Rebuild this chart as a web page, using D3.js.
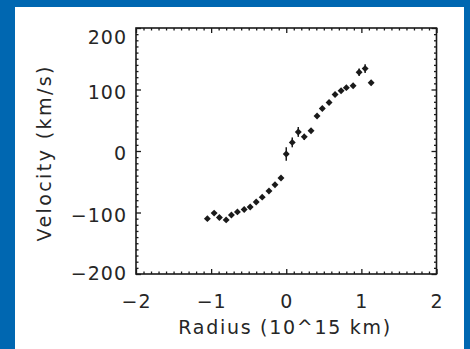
<!DOCTYPE html>
<html>
<head>
<meta charset="utf-8">
<script src="https://cdn.jsdelivr.net/npm/d3@7"></script>
<style>
  html, body { margin: 0; padding: 0; background: #0067b1; }
  svg { display: block; }
</style>
</head>
<body>
<svg id="chart" width="470" height="349"></svg>
<script>
// Rotation curve: line-of-sight velocity against projected radius
const radius = [-1.05, -0.96, -0.89, -0.80, -0.73, -0.65, -0.56, -0.48, -0.40, -0.32,
                -0.23, -0.15, -0.07, 0.00, 0.08, 0.16, 0.24, 0.33, 0.41, 0.48,
                0.57, 0.65, 0.73, 0.80, 0.89, 0.97, 1.05, 1.13];
const velocity = [-110, -101, -108, -112, -104, -99, -95, -91, -83, -75,
                  -65, -55, -44, -5, 14, 31, 23, 33, 57, 69,
                  79, 92, 98, 103, 106, 128, 134, 111];
const velocityErr = [3, 3, 3, 3, 3, 3, 3, 3, 3, 3,
                     3, 3, 3, 11, 8, 8, 5, 3, 3, 3,
                     3, 3, 3, 3, 3, 6, 7, 4];
const xTicks = [-2, -1, 0, 1, 2];
const yTicks = [-200, -100, 0, 100, 200];
const xTitle = "Radius (10^15 km)";
const yTitle = "Velocity (km/s)";

const svg = d3.select("#chart");
const ink = "#1a1a1a";
const textInk = "#262626";
const font = "'DejaVu Sans', sans-serif";

// white panel
svg.append("rect").attr("x", 15).attr("y", 7).attr("width", 449).attr("height", 342).attr("fill", "#ffffff");

const box = { left: 136, right: 436.5, top: 28, bottom: 274 };
const x = d3.scaleLinear().domain([-2, 2]).range([box.left, box.right]);
const y = d3.scaleLinear().domain([-200, 200]).range([box.bottom, box.top]);

const xMinor = d3.range(-20, 21).map(d => d / 10).filter(d => Math.abs(d - Math.round(d)) > 1e-9);
const yMinor = d3.range(-200, 201, 10).filter(d => d % 100 !== 0);
const fmt = d => d < 0 ? "\u2212" + Math.abs(d) : String(d);

function styleAxis(g) {
  g.select(".domain").remove();
  g.selectAll("line").attr("stroke", ink).attr("stroke-width", 1.3);
  g.selectAll("text").attr("fill", textInk).attr("font-family", font).attr("font-size", 19)
    .attr("letter-spacing", "1px");
}

// bottom axis with labels
svg.append("g").attr("transform", `translate(0,${box.bottom})`)
  .call(d3.axisBottom(x).tickValues(xTicks).tickSize(-5).tickPadding(21).tickFormat(fmt))
  .call(styleAxis);
svg.append("g").attr("transform", `translate(0,${box.bottom})`)
  .call(d3.axisBottom(x).tickValues(xMinor).tickSize(-2.5).tickFormat(""))
  .call(styleAxis);
// top axis
svg.append("g").attr("transform", `translate(0,${box.top})`)
  .call(d3.axisTop(x).tickValues(xTicks).tickSize(-5).tickFormat(""))
  .call(styleAxis);
svg.append("g").attr("transform", `translate(0,${box.top})`)
  .call(d3.axisTop(x).tickValues(xMinor).tickSize(-2.5).tickFormat(""))
  .call(styleAxis);
// left axis with labels; the top label sits just inside the frame height
svg.append("g").attr("transform", `translate(${box.left},0)`)
  .call(d3.axisLeft(y).tickValues(yTicks).tickSize(-5).tickPadding(9).tickFormat(fmt))
  .call(styleAxis)
  .call(g => g.selectAll(".tick text")
    .attr("dy", d => d === 200 ? "0.82em" : (d === -200 ? "0.3em" : "0.45em")));
svg.append("g").attr("transform", `translate(${box.left},0)`)
  .call(d3.axisLeft(y).tickValues(yMinor).tickSize(-2.5).tickFormat(""))
  .call(styleAxis);
// right axis
svg.append("g").attr("transform", `translate(${box.right},0)`)
  .call(d3.axisRight(y).tickValues(yTicks).tickSize(-5).tickFormat(""))
  .call(styleAxis);
svg.append("g").attr("transform", `translate(${box.right},0)`)
  .call(d3.axisRight(y).tickValues(yMinor).tickSize(-2.5).tickFormat(""))
  .call(styleAxis);

// frame
svg.append("rect")
  .attr("x", box.left).attr("y", box.top)
  .attr("width", box.right - box.left).attr("height", box.bottom - box.top)
  .attr("fill", "none").attr("stroke", ink).attr("stroke-width", 1.6);

// axis titles
svg.append("text")
  .attr("x", (box.left + box.right) / 2 - 2).attr("y", 334)
  .attr("text-anchor", "middle").attr("font-family", font).attr("font-size", 19)
  .attr("fill", textInk).attr("textLength", 212).attr("lengthAdjust", "spacing")
  .text(xTitle);
svg.append("text")
  .attr("transform", `translate(51,154) rotate(-90)`)
  .attr("text-anchor", "middle").attr("font-family", font).attr("font-size", 19)
  .attr("fill", textInk).attr("textLength", 175).attr("lengthAdjust", "spacing")
  .text(yTitle);

// data: error bars and diamond markers
const pts = radius.map((r, i) => ({ r, v: velocity[i], e: velocityErr[i] }));
const marks = svg.append("g");
marks.selectAll("line.err").data(pts).join("line").attr("class", "err")
  .attr("x1", d => x(d.r)).attr("x2", d => x(d.r))
  .attr("y1", d => y(d.v - d.e)).attr("y2", d => y(d.v + d.e))
  .attr("stroke", ink).attr("stroke-width", 1.5);
marks.selectAll("path.pt").data(pts).join("path").attr("class", "pt")
  .attr("d", d3.symbol(d3.symbolSquare, 24))
  .attr("transform", d => `translate(${x(d.r)},${y(d.v)}) rotate(45)`)
  .attr("fill", ink);
</script>
</body>
</html>
